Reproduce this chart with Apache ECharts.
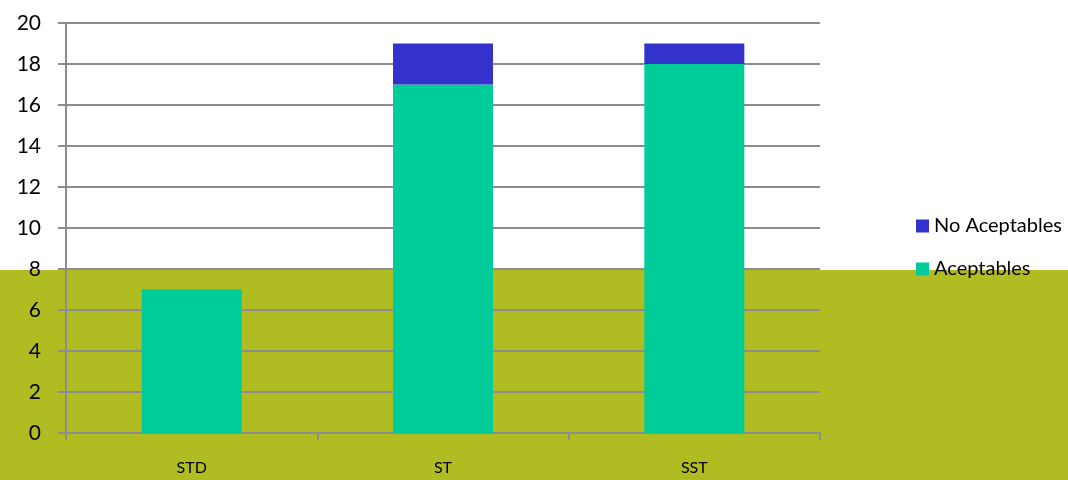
<!DOCTYPE html>
<html>
<head>
<meta charset="UTF-8">
<title>Aceptables</title>
<script src="https://cdn.jsdelivr.net/npm/echarts@6/dist/echarts.min.js"></script>
<style>
  body { margin:0px; background:#fff; }
  #chart { width:1068px; height:480px; }
</style>
</head>
<body>
<div id="chart"></div>
<script>
// categorias y valores
var categories = ['STD', 'ST', 'SST'];
var aceptables = [7, 17, 18];
var noAceptables = [0, 2, 1];
var yTicks = { min: 0, max: 20, interval: 2 };

var lineColor = '#8c8c8c';
var font = 'Lato, "Open Sans", sans-serif';

var myChart = echarts.init(document.getElementById('chart'));
var option = {
  animation: false,
  backgroundColor: '#ffffff',
  textStyle: { fontFamily: font },
  graphic: [{
    type: 'rect',
    z: -10,
    silent: true,
    shape: { x: 0, y: 270, width: 1068, height: 210 },
    style: { fill: '#afbd22' }
  }],
  grid: { left: 66, right: 248, top: 23, bottom: 47 },
  legend: {
    orient: 'vertical',
    left: 911,
    top: 211,
    itemWidth: 13,
    itemHeight: 13,
    itemGap: 23,
    icon: 'rect',
    data: ['No Aceptables', 'Aceptables'],
    textStyle: { fontFamily: font, fontSize: 20, color: '#000' }
  },
  xAxis: {
    type: 'category',
    data: categories,
    axisLine: { lineStyle: { color: lineColor, width: 2 } },
    axisTick: { show: true, length: 7, interval: 0, lineStyle: { color: lineColor, width: 2 } },
    axisLabel: { margin: 27, fontSize: 16, color: '#000', fontFamily: font }
  },
  yAxis: {
    type: 'value',
    min: yTicks.min,
    max: yTicks.max,
    interval: yTicks.interval,
    axisLine: { show: true, lineStyle: { color: lineColor, width: 2 } },
    axisTick: { show: true, length: 8, lineStyle: { color: lineColor, width: 2 } },
    splitLine: { show: true, lineStyle: { color: lineColor, width: 2 } },
    axisLabel: { margin: 25, fontSize: 21, color: '#000', fontFamily: font }
  },
  series: [{
    name: 'Aceptables',
    type: 'bar',
    stack: 'total',
    barWidth: 100,
    itemStyle: { color: '#00cc99' },
    data: aceptables
  }, {
    name: 'No Aceptables',
    type: 'bar',
    stack: 'total',
    barWidth: 100,
    itemStyle: { color: '#3333cc' },
    data: noAceptables
  }]
};
myChart.setOption(option);
</script>
</body>
</html>
